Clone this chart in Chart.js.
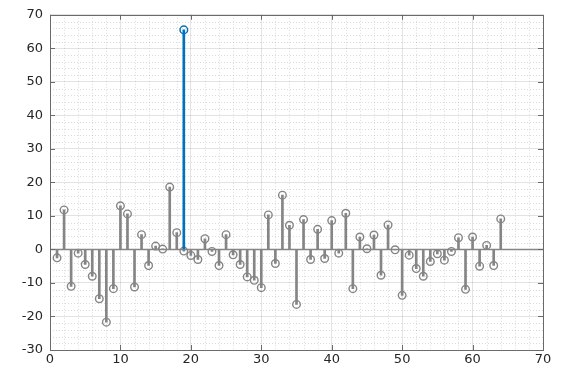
<!DOCTYPE html>
<html>
<head>
<meta charset="utf-8">
<script src="https://cdn.jsdelivr.net/npm/chart.js@4"></script>
<style>
  html, body { margin: 0; padding: 0; background: #fff; }
  #wrap { width: 566px; height: 369px; position: relative; }
</style>
</head>
<body>
<div id="wrap"><canvas id="stemChart"></canvas></div>
<script>
// ─── DATA ─────────────────────────────────────────────────────────────────────
const SAMPLE_VALUES = [
  -2.5, 11.8, -11.0, -1.1, -4.5, -8.0, -14.7, -21.7, -11.7, 13.0,
  10.6, -11.2, 4.4, -4.8, 1.0, 0.1, 18.6, 5.0, -0.5, -1.8,
  -3.0, 3.2, -0.6, -4.8, 4.4, -1.6, -4.5, -8.2, -9.2, -11.4,
  10.3, -4.2, 16.2, 7.2, -16.4, 8.9, -3.0, 6.0, -2.7, 8.6,
  -1.1, 10.8, -11.7, 3.7, 0.2, 4.3, -7.7, 7.3, -0.1, -13.7,
  -1.7, -5.7, -8.0, -3.6, -1.3, -3.2, -0.6, 3.5, -11.9, 3.7,
  -5.0, 1.2, -4.8, 9.1
];
const SAMPLE_N = SAMPLE_VALUES.map((_, i) => i + 1);

const PEAK_N = [19];
const PEAK_VALUES = [65.5];

const X_RANGE = [0, 70];
const Y_RANGE = [-30, 70];
const MAJOR_STEP = 10;
const MINOR_STEP = 2;

// ─── STYLE ────────────────────────────────────────────────────────────────────
const GRAY = "#858585";
const BLUE = "#0072bd";
const AXIS = "#6a6a6a";
const FONT = { family: "DejaVu Sans", size: 13 };

// ─── PLUGINS ──────────────────────────────────────────────────────────────────
const minorGrid = {
  id: "minorGrid",
  beforeDatasetsDraw(chart) {
    const { ctx, chartArea: a, scales: { x, y } } = chart;
    ctx.save();
    ctx.strokeStyle = "rgba(0,0,0,0.14)";
    ctx.lineWidth = 1;
    ctx.setLineDash([1, 2]);
    for (let v = X_RANGE[0]; v <= X_RANGE[1]; v += MINOR_STEP) {
      if (v % MAJOR_STEP === 0) continue;
      const px = Math.round(x.getPixelForValue(v)) + 0.5;
      ctx.beginPath(); ctx.moveTo(px, a.top); ctx.lineTo(px, a.bottom); ctx.stroke();
    }
    for (let v = Y_RANGE[0]; v <= Y_RANGE[1]; v += MINOR_STEP) {
      if (v % MAJOR_STEP === 0) continue;
      const py = Math.round(y.getPixelForValue(v)) + 0.5;
      ctx.beginPath(); ctx.moveTo(a.left, py); ctx.lineTo(a.right, py); ctx.stroke();
    }
    ctx.restore();
  }
};

const axesBox = {
  id: "axesBox",
  afterDraw(chart) {
    const { ctx, chartArea: a, scales: { x, y } } = chart;
    ctx.save();
    ctx.strokeStyle = AXIS;
    ctx.lineWidth = 1;
    ctx.strokeRect(Math.round(a.left) + 0.5, Math.round(a.top) + 0.5,
      Math.round(a.right - a.left), Math.round(a.bottom - a.top));
    const t = 5;
    ctx.beginPath();
    for (let v = X_RANGE[0]; v <= X_RANGE[1]; v += MAJOR_STEP) {
      const px = Math.round(x.getPixelForValue(v)) + 0.5;
      ctx.moveTo(px, a.bottom); ctx.lineTo(px, a.bottom - t);
      ctx.moveTo(px, a.top); ctx.lineTo(px, a.top + t);
    }
    for (let v = Y_RANGE[0]; v <= Y_RANGE[1]; v += MAJOR_STEP) {
      const py = Math.round(y.getPixelForValue(v)) + 0.5;
      ctx.moveTo(a.left, py); ctx.lineTo(a.left + t, py);
      ctx.moveTo(a.right, py); ctx.lineTo(a.right - t, py);
    }
    ctx.stroke();
    ctx.restore();
  }
};

// ─── CHART ────────────────────────────────────────────────────────────────────
const stems = SAMPLE_N.map((n, i) => ({ x: n, y: [0, SAMPLE_VALUES[i]] }));
const heads = SAMPLE_N.map((n, i) => ({ x: n, y: SAMPLE_VALUES[i] }));
const peakStems = PEAK_N.map((n, i) => ({ x: n, y: [0, PEAK_VALUES[i]] }));
const peakHeads = PEAK_N.map((n, i) => ({ x: n, y: PEAK_VALUES[i] }));

new Chart(document.getElementById("stemChart"), {
  type: "bar",
  data: {
    datasets: [
      {
        type: "line", data: [{ x: X_RANGE[0], y: 0 }, { x: X_RANGE[1], y: 0 }],
        borderColor: GRAY, borderWidth: 1.5, pointRadius: 0, order: 5,
      },
      {
        data: stems, backgroundColor: GRAY, borderWidth: 0,
        barThickness: 2, grouped: false, order: 4,
      },
      {
        type: "line", data: heads, showLine: false,
        pointRadius: 3.8, pointBorderWidth: 1.4,
        pointBorderColor: GRAY, pointBackgroundColor: "rgba(255,255,255,0)", order: 3,
      },
      {
        data: peakStems, backgroundColor: BLUE, borderWidth: 0,
        barThickness: 2, grouped: false, order: 2,
      },
      {
        type: "line", data: peakHeads, showLine: false,
        pointRadius: 3.8, pointBorderWidth: 1.5,
        pointBorderColor: BLUE, pointBackgroundColor: "rgba(255,255,255,0)", order: 1,
      },
    ]
  },
  options: {
    responsive: true, maintainAspectRatio: false, animation: false,
    layout: { padding: { left: 0, right: 23, top: 14, bottom: 0 } },
    plugins: { legend: { display: false }, tooltip: { enabled: false } },
    scales: {
      x: {
        type: "linear", min: X_RANGE[0], max: X_RANGE[1], offset: false,
        grid: { color: "rgba(0,0,0,0.11)", drawTicks: false, offset: false },
        border: { display: false },
        ticks: { stepSize: MAJOR_STEP, color: "#262626", font: FONT, padding: 2, maxRotation: 0 },
        afterFit: s => { s.height = 19; },
      },
      y: {
        min: Y_RANGE[0], max: Y_RANGE[1],
        grid: { color: "rgba(0,0,0,0.11)", drawTicks: false },
        border: { display: false },
        ticks: { stepSize: MAJOR_STEP, color: "#262626", font: FONT, padding: 7 },
        afterFit: s => { s.width = 50; },
      }
    }
  },
  plugins: [minorGrid, axesBox]
});
</script>
</body>
</html>
